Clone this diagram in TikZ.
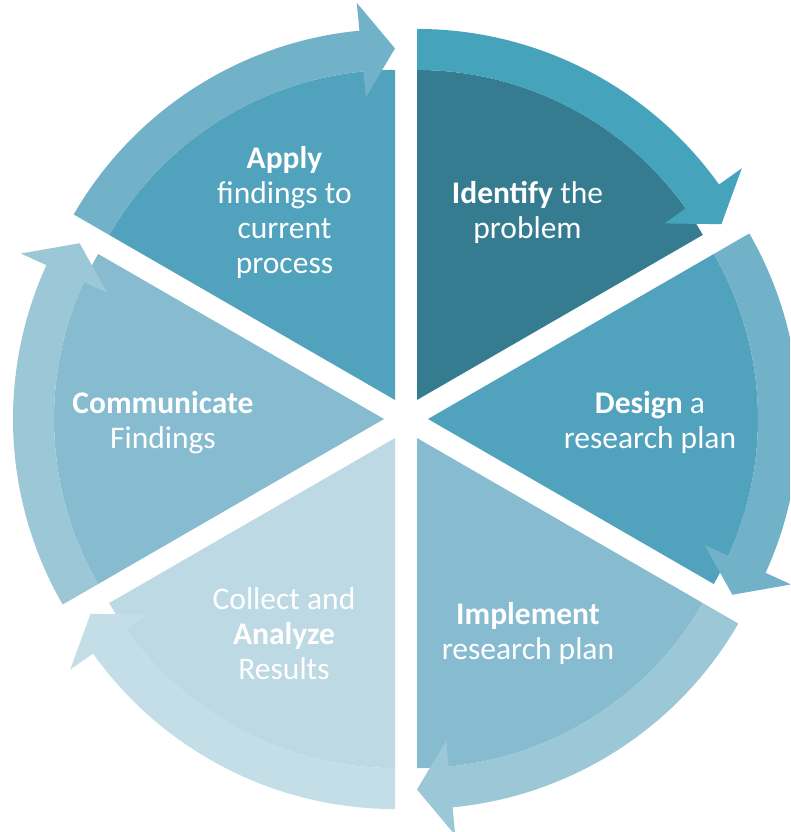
\documentclass[tikz,border=0pt]{standalone}
\usepackage{fontspec}
\setmainfont{Carlito}
\usepackage{xcolor}
\definecolor{segDark}{HTML}{367C90}
\definecolor{arrDark}{HTML}{46A3BC}
\definecolor{segMid}{HTML}{50A2BD}
\definecolor{arrMid}{HTML}{72B2C9}
\definecolor{segLight}{HTML}{86BBD0}
\definecolor{arrLight}{HTML}{9BC7D7}
\definecolor{segPale}{HTML}{BDD9E3}
\definecolor{arrPale}{HTML}{C3DEE6}

\begin{document}
\begin{tikzpicture}[x=1pt,y=1pt, step text/.style={text=white, align=center, yshift=-3.5pt, font=\fontsize{31.5}{35}\selectfont}]

  \useasboundingbox (-406,-413) rectangle (384,419);
  \clip (-406,-413) rectangle (384,419);
  \fill[white] (-406,-413) rectangle (384,419);

  \foreach \m/\wc in {60/segDark,0/segMid,-60/segLight,-120/segPale,180/segLight,120/segMid}
    \fill[\wc, shift={(\m:22)}] (0,0) -- (\m-30:330) arc[start angle=\m-30, end angle=\m+30, radius=330] -- cycle;

  \foreach \m/\ac in {60/arrDark,0/arrMid,-60/arrLight,-120/arrPale,180/arrLight,120/arrMid}
    \fill[\ac, shift={(\m:22)}] (\m+30:330) arc[start angle=\m+30, end angle=\m-24.5, radius=330]
      -- (\m-24.5:304) -- (\m-30:351.5) -- (\m-24.5:399) -- (\m-24.5:371)
      arc[start angle=\m-24.5, end angle=\m+30, radius=371] -- cycle;

  \node[step text] (identify) at (60:243) {\textbf{Identify} the\\problem};
  \node[step text] (design) at (0:244) {\textbf{Design} a\\research plan};
  \node[step text] (implement) at (-60:244) {\textbf{Implement}\\research plan};
  \node[step text] (collect) at (-120:244) {Collect and\\\textbf{Analyze}\\Results};
  \node[step text] (communicate) at (180:243) {\textbf{Communicate}\\Findings};
  \node[step text] (apply) at (120:243) {\textbf{Apply}\\findings to\\current\\process};

\end{tikzpicture}
\end{document}
